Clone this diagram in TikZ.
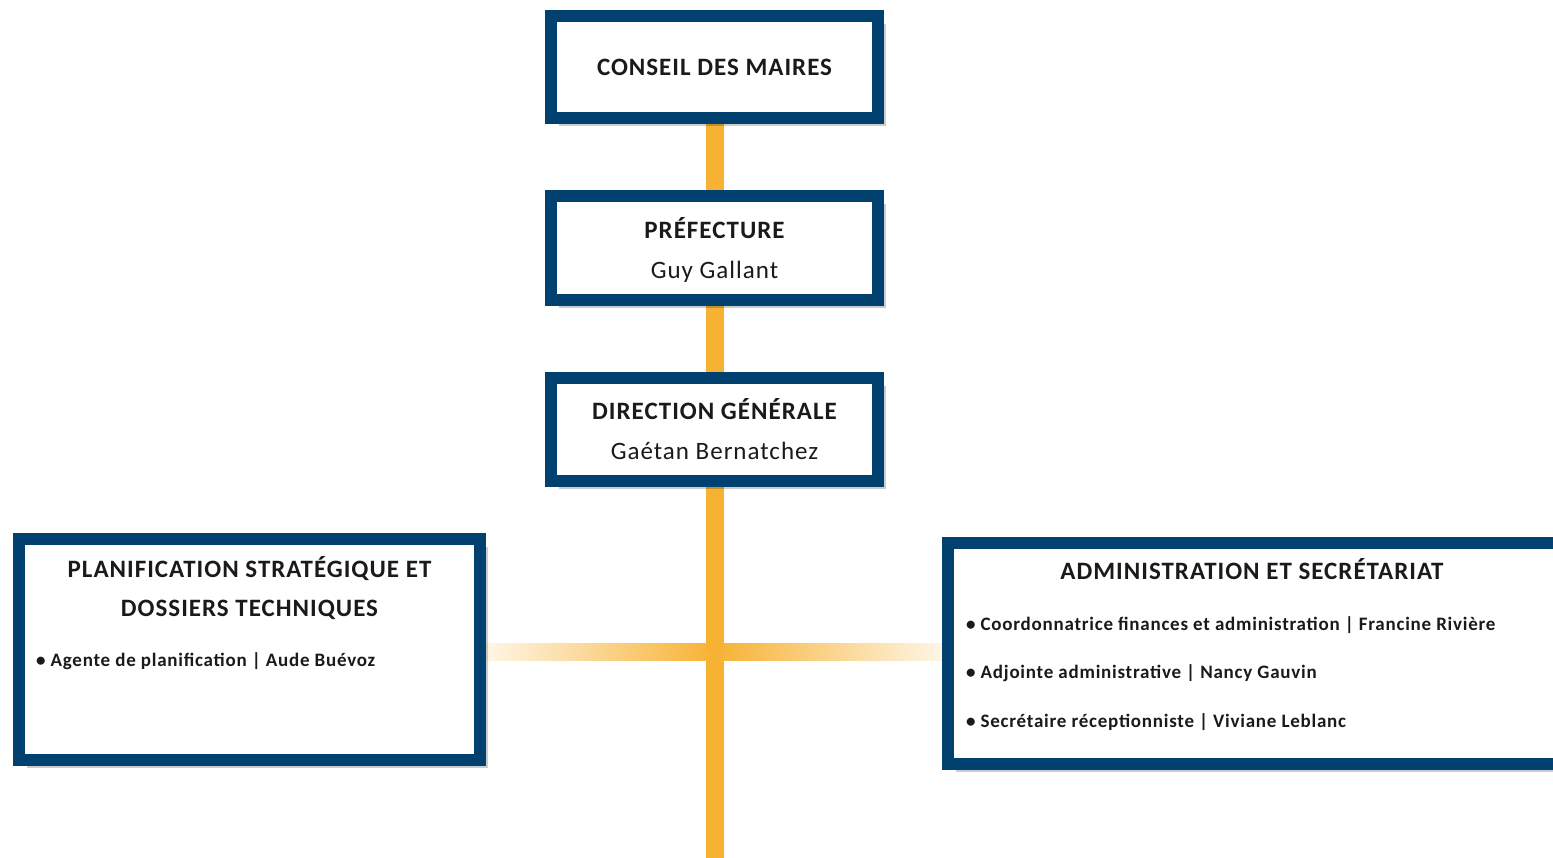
\documentclass[tikz,border=0pt]{standalone}
\usepackage{fontspec}
\setmainfont{Carlito}[LetterSpace = 4]
\usetikzlibrary{positioning, calc, shadows, backgrounds}
\definecolor{navyc}{HTML}{00416F}
\definecolor{orangec}{HTML}{F7B234}
\definecolor{inkc}{HTML}{1A1A1A}

\tikzset{
	unit/.style = {draw = navyc, line width = 12pt, fill = white, inner sep = 0pt,
		text = inkc, font = \fontsize{25}{40}\selectfont, align = center,
		drop shadow = {shadow xshift = 8pt, shadow yshift = -8pt, opacity = 0.2, fill = black}},
	head/.style = {text = inkc, font = \bfseries\fontsize{25}{39}\selectfont, align = center, inner sep = 0pt},
	item/.style = {text = inkc, font = \bfseries\fontsize{19}{20}\selectfont, anchor = west, inner sep = 0pt},
	vline/.style = {orangec, line width = 18pt},
}

\begin{document}
\begin{tikzpicture}[x = 1pt, y = 1pt]
	\useasboundingbox (0, 0) rectangle (1553, -858);
	% boxes
	\node[unit, minimum width = 327pt, minimum height = 102pt] (conseil) at (714.5, -67) {\bfseries CONSEIL DES MAIRES};
	\node[unit, minimum width = 327pt, minimum height = 104pt] (prefecture) at (714.5, -248) {\rule{0pt}{25pt}{\bfseries PRÉFECTURE}\\Guy Gallant};
	\node[unit, minimum width = 327pt, minimum height = 103pt] (direction) at (714.5, -429.5) {{\bfseries DIRECTION GÉNÉRALE}\\Gaétan Bernatchez};
	\node[unit, minimum width = 461pt, minimum height = 221pt] (plan) at (249.5, -649.5) {};
	\node[unit, minimum width = 640pt, minimum height = 221pt] (admin) at (1268, -653.5) {};
	% box contents
	\node[head] (plan-head) at ([yshift = -55.5pt]plan.north) {PLANIFICATION STRATÉGIQUE ET\\DOSSIERS TECHNIQUES};
	\node[item] (plan-1) at ([xshift = 23pt, yshift = -128pt]plan.north west) {\textbullet\hspace{5pt}Agente de planification | Aude Buévoz};
	\node[head] (admin-head) at ([xshift = -16pt, yshift = -32pt]admin.north) {ADMINISTRATION ET SECRÉTARIAT};
	\foreach \txt [count = \i] in {Coordonnatrice finances et administration | Francine Rivière, Adjointe administrative | Nancy Gauvin, Secrétaire réceptionniste | Viviane Leblanc}
		\node[item] (admin-\i) at ([xshift = 24pt, yshift = {-39.5pt - 48.5pt*\i}]admin.north west) {\textbullet\hspace{5pt}\txt};
	% connectors
	\coordinate (bottom) at (715, -870);
	\coordinate (hub) at (715, -651.5);
	\begin{scope}[on background layer]
		\draw[vline] (conseil.center) -- (prefecture.center);
		\draw[vline] (prefecture.center) -- (direction.center);
		\draw[vline] (direction.center |- hub) -- (direction.center |- bottom);
		\fill[left color = orangec!12, right color = orangec] ($(plan.east |- hub) + (0, 8.5)$) rectangle ($(hub) + (0, -8.5)$);
		\fill[left color = orangec, right color = orangec!12] ($(hub) + (0, 8.5)$) rectangle ($(admin.west |- hub) + (0, -8.5)$);
		\draw[vline] (direction.center) -- (direction.center |- hub);
	\end{scope}
\end{tikzpicture}
\end{document}
